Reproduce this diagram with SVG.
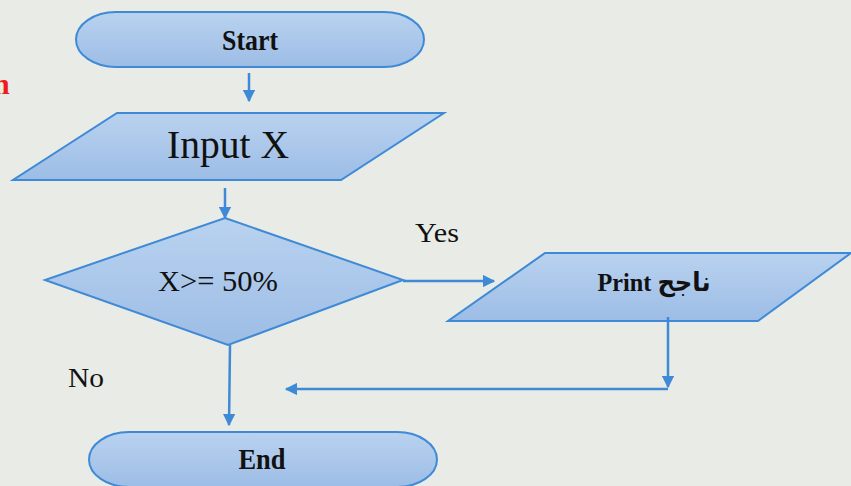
<svg xmlns="http://www.w3.org/2000/svg" width="851" height="486" viewBox="0 0 851 486">
  <defs>
    <linearGradient id="fill" x1="0" y1="0" x2="0" y2="1">
      <stop offset="0" stop-color="#b9d2ef"/>
      <stop offset="1" stop-color="#9dbde6"/>
    </linearGradient>
    <marker id="arrow" viewBox="0 0 10 10" refX="9" refY="5" markerWidth="5" markerHeight="5" orient="auto" markerUnits="strokeWidth">
      <path d="M0,0 L10,5 L0,10 z" fill="#3f8ad6"/>
    </marker>
  </defs>
  <style>
    .shape { fill: url(#fill); stroke: #3f8ad6; stroke-width: 2; }
    .edge { fill: none; stroke: #3f8ad6; stroke-width: 2.5; marker-end: url(#arrow); }
    .lbl { font-family: "Liberation Serif", "DejaVu Sans", serif; fill: #111; text-anchor: middle; }
    .term { font-weight: bold; }
  </style>

  <rect width="851" height="486" fill="#e8ebe6"/>

  <!-- clipped heading fragment at the left edge -->
  <text x="-7" y="94" font-family="Liberation Serif, serif" font-size="30" font-weight="bold" fill="#ee1c1c">n</text>

  <g id="start">
    <rect class="shape" x="76" y="12" width="348" height="55" rx="40" ry="27.5"/>
    <text class="lbl term" x="250" y="50" font-size="30" textLength="56" lengthAdjust="spacingAndGlyphs">Start</text>
  </g>

  <g id="input">
    <polygon class="shape" points="117,113 444,113 341,180 13,180"/>
    <text class="lbl" x="228" y="158" font-size="39" textLength="122" lengthAdjust="spacingAndGlyphs">Input X</text>
  </g>

  <g id="decision">
    <polygon class="shape" points="225,218 403,280 228,345 45,280"/>
    <text class="lbl" x="218" y="291" font-size="30" textLength="120" lengthAdjust="spacingAndGlyphs">X&gt;= 50%</text>
  </g>

  <g id="print">
    <polygon class="shape" points="545,253 851,253 758,321 448,321"/>
    <text class="lbl term" x="654" y="291" font-size="26" textLength="113" lengthAdjust="spacingAndGlyphs">Print ناجح</text>
  </g>

  <g id="end">
    <rect class="shape" x="89" y="432" width="348" height="55" rx="40" ry="27.5"/>
    <text class="lbl term" x="262" y="469" font-size="29" textLength="47" lengthAdjust="spacingAndGlyphs">End</text>
  </g>

  <g id="labels">
    <text class="lbl" x="437" y="242" font-size="28" textLength="44" lengthAdjust="spacingAndGlyphs">Yes</text>
    <text class="lbl" x="86" y="387" font-size="28" textLength="36" lengthAdjust="spacingAndGlyphs">No</text>
  </g>

  <g id="connectors">
    <line class="edge" x1="249" y1="73" x2="249" y2="101"/>
    <line class="edge" x1="225" y1="188" x2="225" y2="218"/>
    <line class="edge" x1="403" y1="281" x2="494" y2="281"/>
    <line class="edge" x1="230" y1="345" x2="229" y2="425"/>
    <line class="edge" x1="668" y1="317" x2="668" y2="387"/>
    <polyline class="edge" points="668,389 286,389"/>
  </g>
</svg>
